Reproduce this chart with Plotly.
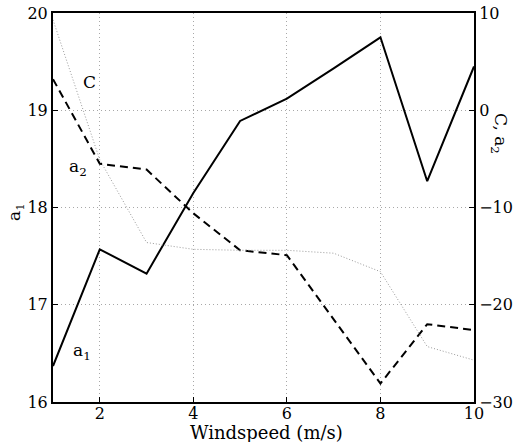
import plotly.graph_objects as go

windspeed = [1, 2, 3, 4, 5, 6, 7, 8, 9, 10]
a1_values = [16.37, 17.57, 17.32, 18.15, 18.89, 19.12, 19.43, 19.75, 18.27, 19.45]
a2_values = [3.2, -5.5, -6.1, -10.6, -14.4, -14.9, -21.5, -28.1, -22.0, -22.6]
c_values = [9.3, -5.1, -13.6, -14.3, -14.4, -14.4, -14.7, -16.6, -24.3, -25.7]

x_ticks = [2, 4, 6, 8, 10]
left_ticks = [16, 17, 18, 19, 20]
right_ticks = [-30, -20, -10, 0, 10]

FONT = "DejaVu Serif"
W, H = 517, 442
ML, MT = 53, 13
MR = W - 474
MB = H - 402
PW, PH = W - ML - MR, H - MT - MB


def px(xp, yp):
    """screen pixel -> paper coords"""
    return (xp - ML) / PW, (H - MB - yp) / PH


fig = go.Figure()
fig.add_trace(go.Scatter(x=windspeed, y=a1_values, mode="lines",
                         line=dict(color="black", width=2), yaxis="y", showlegend=False))
fig.add_trace(go.Scatter(x=windspeed, y=a2_values, mode="lines",
                         line=dict(color="black", width=2, dash="8px,5px"), yaxis="y2", showlegend=False))
fig.add_trace(go.Scatter(x=windspeed, y=c_values, mode="lines",
                         line=dict(color="#9a9a9a", width=1, dash="1px,2px"), yaxis="y2", showlegend=False))

axis_common = dict(ticks="inside", ticklen=5, tickcolor="black", tickwidth=1,
                   showline=True, linecolor="black", linewidth=2, automargin=False,
                   ticklabeloverflow="allow",
                   tickfont=dict(family=FONT, size=16, color="black"), zeroline=False)
grid = dict(showgrid=True, gridcolor="#a8a8a8", griddash="1px,3px", gridwidth=1)

txt = dict(family=FONT, size=17, color="black")


def label(text, xp, yp, angle=0, font=txt):
    x, y = px(xp, yp)
    return dict(text=text, x=x, y=y, xref="paper", yref="paper", showarrow=False,
                xanchor="center", yanchor="middle", textangle=angle, font=font)


fig.update_layout(
    width=W, height=H,
    margin=dict(l=ML, r=MR, t=MT, b=MB),
    plot_bgcolor="white", paper_bgcolor="white",
    xaxis=dict(range=[1, 10], tickvals=x_ticks, mirror=True, ticklabelstandoff=-4,
               **grid, **axis_common),
    yaxis=dict(range=[16, 20], tickvals=left_ticks, **grid, **axis_common),
    yaxis2=dict(range=[-30, 10], tickvals=right_ticks, overlaying="y", side="right",
                showgrid=False, **axis_common),
    annotations=[
        label("Windspeed (m/s)", 266, 432, font=dict(family=FONT, size=18, color="black")),
        label("C", 89.5, 81.5),
        label("a<sub>2</sub>", 78, 167),
        label("a<sub>1</sub>", 82, 351),
        label("a<sub>1</sub>", 15, 212, angle=-90),
        label("C, a<sub>2</sub>", 500, 133, angle=90),
    ],
)

fig.write_html("out.html", config={"displayModeBar": False},
               post_script="document.body.style.margin='0';")
